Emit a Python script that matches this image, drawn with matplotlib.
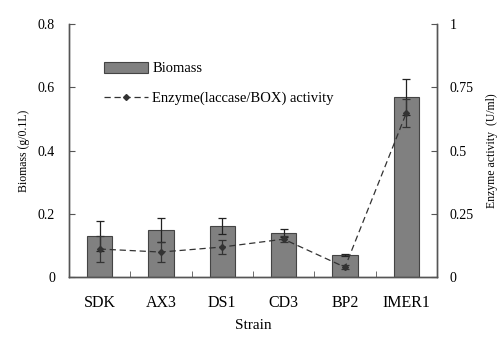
import numpy as np
import matplotlib.pyplot as plt
from matplotlib.lines import Line2D
from matplotlib.ticker import FixedLocator

# Data
strains = ["SDK", "AX3", "DS1", "CD3", "BP2", "IMER1"]
biomass = [0.130, 0.149, 0.161, 0.139, 0.070, 0.569]
biomass_err = [0.047, 0.037, 0.025, 0.013, 0.003, 0.057]
enzyme = [0.111, 0.099, 0.119, 0.150, 0.039, 0.649]
enzyme_err = [0.050, 0.040, 0.026, 0.012, 0.008, 0.055]

plt.rcParams["font.family"] = ["Liberation Serif", "DejaVu Serif"]

fig = plt.figure(figsize=(5.0, 3.4), dpi=100)
ax = fig.add_axes([0.138, 0.185, 0.736, 0.744])
ax2 = ax.twinx()

x = np.arange(len(strains))
spine_col = "#555555"
dash = (0, (5, 3))

# Bars (biomass)
bars = ax.bar(x, biomass, width=0.41, color="#808080", edgecolor="#444444",
              linewidth=0.8, zorder=2)
ax.errorbar(x, biomass, yerr=biomass_err, fmt="none", ecolor="#222222",
            elinewidth=0.9, capsize=3, capthick=0.9, zorder=3)

# Enzyme activity line
ax2.errorbar(x, enzyme, yerr=enzyme_err, fmt="D", ls=dash,
             color="#333333", ms=3, lw=0.9, elinewidth=0.9,
             capsize=3, capthick=0.9)
line_handle = Line2D([], [], color="#333333", ls=dash, lw=0.9,
                     marker="D", ms=3)

ax.set_xlim(-0.5, 5.5)
ax.set_ylim(0, 0.8)
ax2.set_ylim(0, 1)

ax.set_xticks(x)
ax.set_xticklabels(strains, fontsize=11.5)
ax.xaxis.set_minor_locator(FixedLocator(x[:-1] + 0.5))
ax.tick_params(axis="x", which="major", length=0, pad=13)
ax.tick_params(axis="x", which="minor", direction="in", length=4, color=spine_col)

ax.set_yticks([0, 0.2, 0.4, 0.6, 0.8])
ax.set_yticklabels(["0", "0.2", "0.4", "0.6", "0.8"])
ax.tick_params(axis="y", direction="in", length=4, labelsize=10,
               color=spine_col, pad=10)
ax2.set_yticks([0, 0.25, 0.5, 0.75, 1])
ax2.set_yticklabels(["0", "0.25", "0.5", "0.75", "1"])
ax2.tick_params(axis="y", direction="in", length=4, labelsize=10,
                color=spine_col, pad=9)

for a in (ax, ax2):
    a.spines["top"].set_visible(False)
    for s in ("left", "right", "bottom"):
        a.spines[s].set_color(spine_col)
        a.spines[s].set_linewidth(1.0)

ax.set_xlabel("Strain", fontsize=11, labelpad=6)
ax.set_ylabel("Biomass (g/0.1L)", fontsize=8.5, labelpad=6)
ax2.set_ylabel("Enzyme activity  (U/ml)", fontsize=8.5, labelpad=9)

ax.legend([bars, line_handle], ["Biomass", "Enzyme(laccase/BOX) activity"],
          loc="upper left", bbox_to_anchor=(0.08, 0.875), frameon=False,
          fontsize=10.5, handlelength=3.0, handleheight=0.8,
          labelspacing=1.1, handletextpad=0.3, borderaxespad=0)

fig.savefig("out.png", dpi=100)
